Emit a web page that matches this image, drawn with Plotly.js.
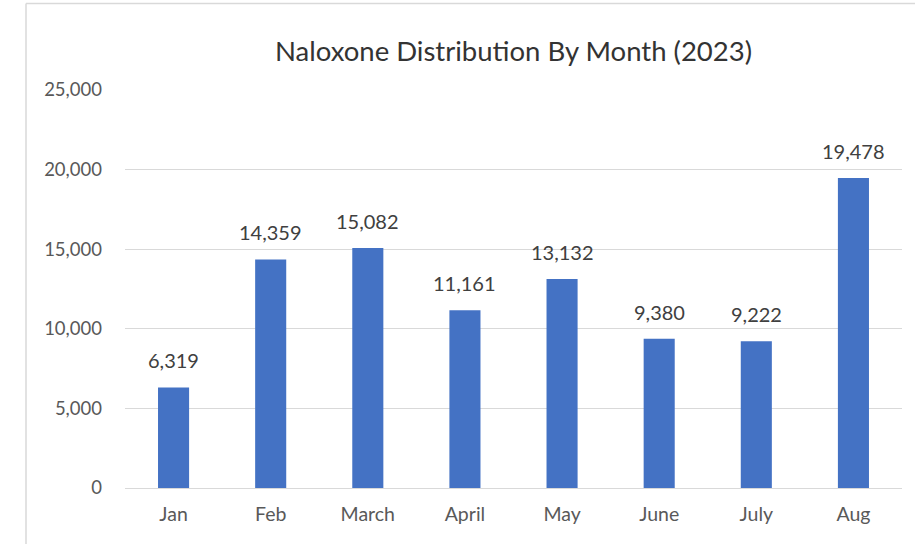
<!DOCTYPE html>
<html>
<head>
<meta charset="utf-8">
<script src="https://cdn.plot.ly/plotly-3.0.1.min.js"></script>
<style>html,body{margin:0;padding:0;background:#fff;}#chart{width:915px;height:544px;}</style>
</head>
<body>
<div id="chart"></div>
<script>
const months = ["Jan", "Feb", "March", "April", "May", "June", "July", "Aug"];
const distributed = [6319, 14359, 15082, 11161, 13132, 9380, 9222, 19478];
const yTickValues = [0, 5000, 10000, 15000, 20000, 25000];
const yTickLabels = ["0", "5,000", "10,000", "15,000", "20,000", "25,000"];

const FONT = "Lato, 'Open Sans', sans-serif";

const trace = {
  type: "bar",
  x: months,
  y: distributed,
  marker: { color: "#4472c4" },
  hoverinfo: "x+y"
};

const fmt = v => v.toLocaleString("en-US");
const labels = months.map((m, i) => ({
  x: m, y: distributed[i], xref: "x", yref: "y",
  text: fmt(distributed[i]), showarrow: false,
  yanchor: "middle", yshift: 27,
  font: { family: FONT, size: 20, color: "#404040" }
}));

const W = 915, H = 544, L = 125, R = 13, T = 89.5, B = 56;
const pw = W - L - R, ph = H - T - B;

const layout = {
  width: W, height: H,
  margin: { l: L, r: R, t: T, b: B, pad: 0 },
  paper_bgcolor: "#ffffff",
  plot_bgcolor: "#ffffff",
  bargap: 0.68,
  showlegend: false,
  title: {
    text: "Naloxone Distribution By Month (2023)",
    font: { family: FONT, size: 27.5, color: "#333333" },
    x: 0.5, xanchor: "center", xref: "paper",
    y: 1 - 51 / H, yanchor: "middle", yref: "container"
  },
  xaxis: {
    type: "category",
    showgrid: false,
    showline: false,
    zeroline: false,
    ticks: "",
    ticklabelstandoff: 12,
    tickfont: { family: FONT, size: 19.5, color: "#595959" }
  },
  yaxis: {
    range: [0, 25000],
    tickvals: yTickValues,
    ticktext: yTickLabels,
    showgrid: true,
    gridcolor: "#d9d9d9",
    gridwidth: 1,
    zeroline: true,
    zerolinecolor: "#d9d9d9",
    zerolinewidth: 1,
    showline: false,
    ticks: "",
    ticklabelstandoff: 22,
    tickfont: { family: FONT, size: 18.5, color: "#595959" }
  },
  annotations: labels,
  shapes: [
    { type: "line", xref: "paper", yref: "paper",
      x0: (26 - L) / pw, x1: (26 - L) / pw, y0: (-B) / ph, y1: (H - 3 - B) / ph,
      line: { color: "#d9d9d9", width: 1.5 } },
    { type: "line", xref: "paper", yref: "paper",
      x0: (26 - L) / pw, x1: (W - L) / pw, y0: (H - 3 - B) / ph, y1: (H - 3 - B) / ph,
      line: { color: "#d9d9d9", width: 1.5 } }
  ]
};

Plotly.newPlot("chart", [trace], layout, { displayModeBar: false, staticPlot: true });
</script>
</body>
</html>
